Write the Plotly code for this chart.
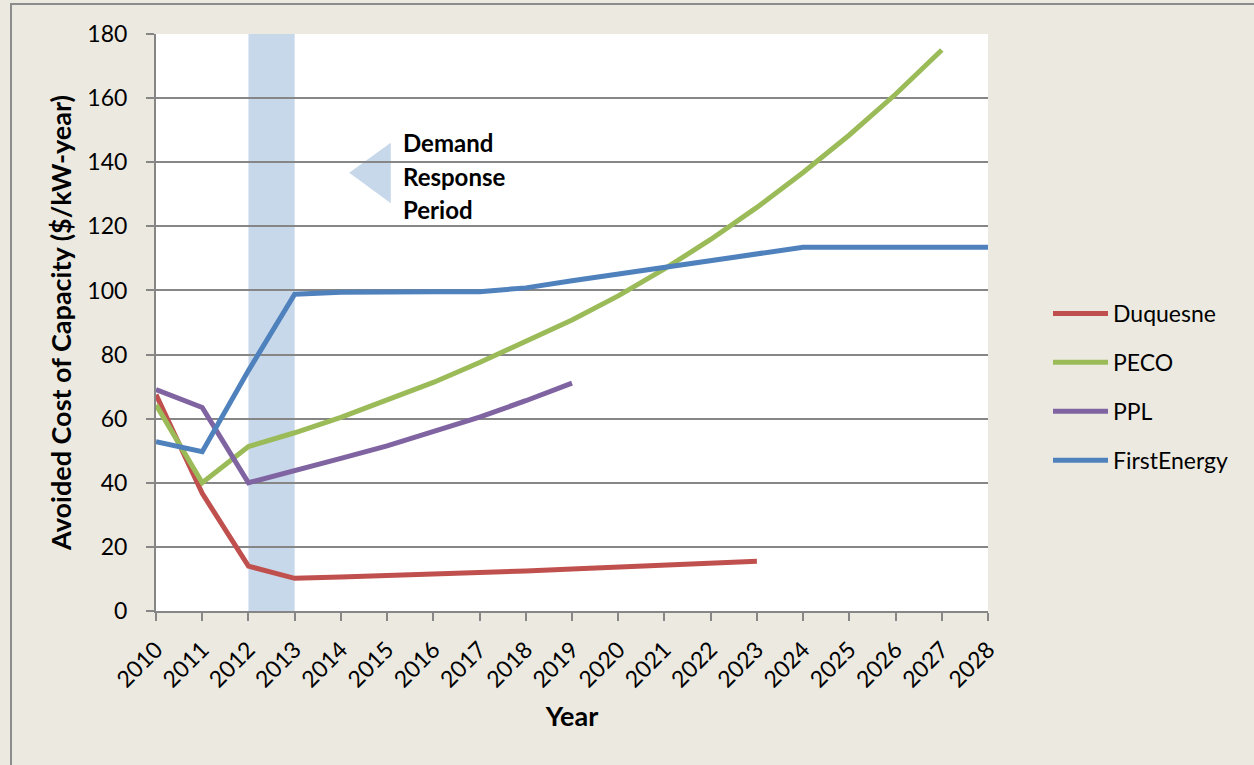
import plotly.graph_objects as go

years = list(range(2010, 2029))
duquesne = [67.5, 36.7, 14.0, 10.2, 10.6, 11.0, 11.5, 12.0, 12.5, 13.1, 13.7, 14.3, 14.9, 15.5]
peco = [64.3, 40.0, 51.3, 55.6, 60.4, 65.7, 71.3, 77.5, 84.0, 90.8, 98.3, 106.7, 115.9, 125.9, 136.8, 148.5, 161.2, 175.0]
ppl = [69.1, 63.5, 40.0, 44.0, 47.6, 51.5, 55.8, 60.5, 65.6, 71.1]
firstenergy = [52.8, 49.7, 75.0, 98.8, 99.4, 99.6, 99.6, 99.6, 100.8, 103.0, 105.1, 107.1, 109.3, 111.4, 113.5, 113.5, 113.5, 113.5, 113.5]

series = [
    ("Duquesne", duquesne, "#C0504D"),
    ("PECO", peco, "#9BBB59"),
    ("PPL", ppl, "#8064A2"),
    ("FirstEnergy", firstenergy, "#4F81BD"),
]

band = (2012, 2013)
note_lines = ["Demand", "Response", "Period"]
note_y = [146.0, 135.4, 125.1]

FONT = "Lato"
GRID = "#868686"

fig = go.Figure()
for name, vals, color in series:
    fig.add_trace(go.Scatter(
        x=years[:len(vals)], y=vals, mode="lines", name=name,
        legendgroup=name,
        line=dict(color=color, width=5),
    ))

shapes = [
    dict(type="rect", xref="x", yref="y", x0=band[0], x1=band[1], y0=0, y1=180,
         fillcolor="#C8D8EB", line=dict(width=0), layer="below"),
    dict(type="path", xref="x", yref="y",
         path="M 2014.18,136.7 L 2015.08,146.1 L 2015.08,127.2 Z",
         fillcolor="#C8D8EB", line=dict(width=0), layer="below"),
    # outer chart border
    dict(type="rect", xref="paper", yref="paper",
         x0=(11 - 156) / 832, x1=1.6, y0=-0.6, y1=(611 - 4) / 577,
         line=dict(color="#8C8C8C", width=2), fillcolor="rgba(0,0,0,0)", layer="below"),
]

annotations = []
for t, yy in zip(note_lines, note_y):
    annotations.append(dict(
        x=2015.30, y=yy, xref="x", yref="y", text="<b>%s</b>" % t, showarrow=False,
        xanchor="left", yanchor="middle", font=dict(family=FONT, size=24, color="black"),
    ))

fig.update_layout(
    width=1254, height=765,
    margin=dict(l=156, r=266, t=34, b=154),
    paper_bgcolor="#ECEAE0",
    plot_bgcolor="white",
    font=dict(family=FONT, size=23, color="black"),
    shapes=shapes,
    annotations=annotations,
    showlegend=True,
    legend=dict(
        x=(1048 - 156) / 832, y=(611 - 292) / 577, xanchor="left", yanchor="top",
        bgcolor="rgba(0,0,0,0)", font=dict(family=FONT, size=23, color="black"),
        traceorder="grouped", tracegroupgap=16, itemwidth=55,
    ),
    xaxis=dict(
        range=[2010, 2028], tickmode="array", tickvals=years,
        ticktext=[str(y) for y in years], tickangle=-45,
        showgrid=False, zeroline=False,
        showline=True, linecolor=GRID, linewidth=2,
        ticks="outside", ticklen=8, tickcolor=GRID, tickwidth=2,
        tickfont=dict(family=FONT, size=23, color="black"),
        ticklabelstandoff=6,
        title=dict(text="<b>Year</b>", font=dict(family=FONT, size=27, color="black"), standoff=16),
    ),
    yaxis=dict(
        range=[0, 180], tickmode="array", tickvals=list(range(0, 181, 20)),
        showgrid=True, gridcolor=GRID, gridwidth=1.5, zeroline=False,
        showline=True, linecolor=GRID, linewidth=2,
        ticks="outside", ticklen=8, tickcolor=GRID, tickwidth=2,
        tickfont=dict(family=FONT, size=23, color="black"),
        ticklabelstandoff=14,
        title=dict(text="<b>Avoided Cost of Capacity ($/kW-year)</b>",
                   font=dict(family=FONT, size=27, color="black"), standoff=8),
    ),
)

fig.write_html("out.html")
